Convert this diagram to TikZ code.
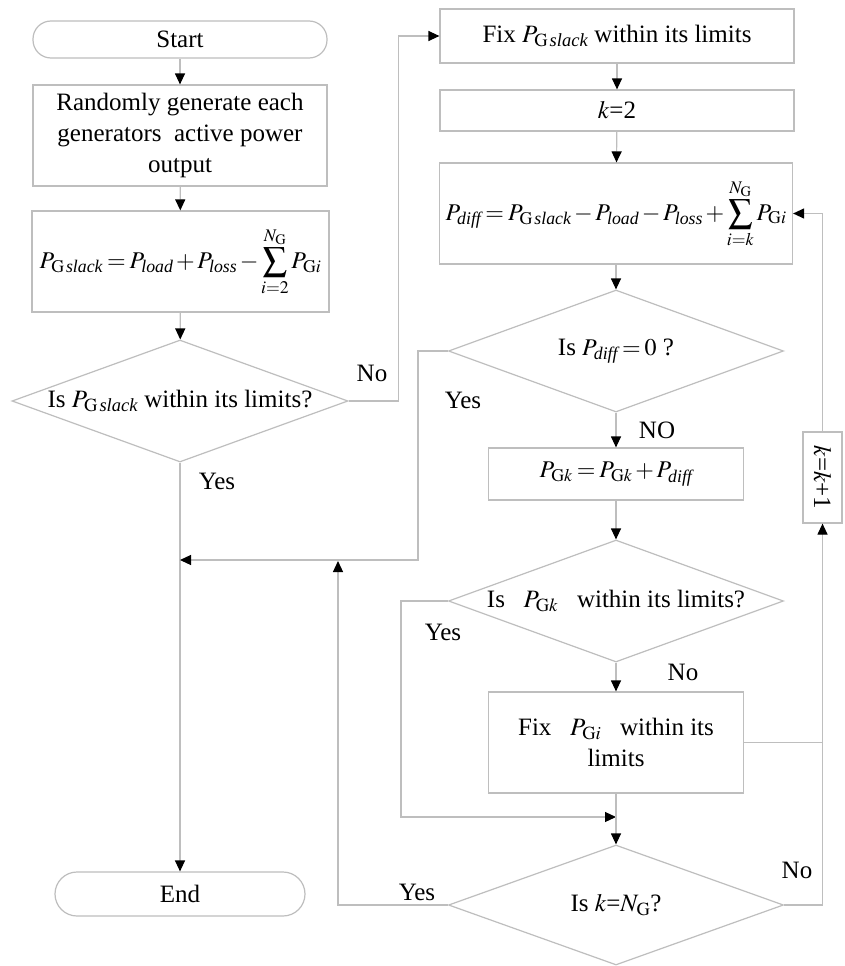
\documentclass[tikz,border=0pt]{standalone}
\usepackage{amsmath}
\usepackage{mathptmx}
\usepackage{fontspec}
\setmainfont{Liberation Serif}
\usepackage{tikz}
\usetikzlibrary{shapes.geometric,arrows.meta}
\definecolor{linegray}{RGB}{190,190,190}
\newcommand{\sub}[1]{\textit{#1}}
\newcommand{\tightmath}{\fontsize{24}{29}\selectfont\medmuskip=2mu\thickmuskip=3mu}
\tikzset{
  flowline/.style={draw=linegray,line width=1.2pt},
  flowarrow/.style={flowline,-{Triangle[length=11pt,width=10pt,color=black]}},
  termbox/.style={draw=linegray,line width=1.2pt,rounded corners=18pt,inner sep=0pt},
  procbox/.style={draw=linegray,line width=1.2pt,inner sep=0pt,align=center},
  decision/.style={draw=linegray,line width=1.2pt,diamond,inner sep=0pt},
  flowtext/.style={inner sep=0pt,align=center},
}

\begin{document}
\begin{tikzpicture}[x=1pt,y=-1pt,font=\fontsize{25}{31}\selectfont]
\useasboundingbox[fill=white] (0,0) rectangle (845,966);
% Drawing left column
% Line 1: start
\node[termbox,minimum width=294pt,minimum height=37pt] (start) at (180,39.5) {Start};
% Line 2: random generation
\node[procbox,minimum width=294pt,minimum height=101pt] (rand) at (180,135.5)
  {Randomly generate each\\generators\ \ active power\\output};
% Line 3: slack power
\node[procbox,minimum width=297pt,minimum height=101pt] (slack) at (180.5,261.5)
  {\tightmath$\displaystyle P_{\mathrm{G}\,\sub{slack}}=P_{\sub{load}}+P_{\sub{loss}}-\sum_{i=2}^{N_{\mathrm{G}}}P_{\mathrm{G}i}$};
% Line 4: first check
\node[decision,minimum width=336pt,minimum height=122pt] (dec1) at (180,401) {};
\node[flowtext] (dec1txt) at (dec1) {Is $P_{\mathrm{G}\,\sub{slack}}$ within its limits?};
% Line 5: end
\node[termbox,rounded corners=22pt,minimum width=250pt,minimum height=44pt] (end) at (180,894) {End};
% Done with left column; drawing right column
% Line 6: fix slack
\node[procbox,minimum width=354pt,minimum height=54pt] (fixslack) at (617,36)
  {Fix $P_{\mathrm{G}\,\sub{slack}}$ within its limits};
% Line 7: k=2
\node[procbox,minimum width=354pt,minimum height=41pt] (ktwo) at (617,110.5) {$k$=2};
% Line 8: power difference
\node[procbox,minimum width=353pt,minimum height=101pt] (diff) at (616,213.5)
  {\tightmath$\displaystyle P_{\sub{diff}}=P_{\mathrm{G}\,\sub{slack}}-P_{\sub{load}}-P_{\sub{loss}}+\sum_{i=k}^{N_{\mathrm{G}}}P_{\mathrm{G}i}$};
% Line 9: difference check
\node[decision,minimum width=335pt,minimum height=122pt] (dec2) at (616,351) {};
\node[flowtext] (dec2txt) at (dec2) {Is {\tightmath$P_{\sub{diff}}=0$}\ ?};
% Line 10: update P_Gk
\node[procbox,minimum width=255pt,minimum height=52pt] (gk) at (616,474)
  {\tightmath$P_{\mathrm{G}k}=P_{\mathrm{G}k}+P_{\sub{diff}}$};
% Line 11: P_Gk check
\node[decision,minimum width=335pt,minimum height=122pt] (dec3) at (616,601) {};
\node[flowtext] (dec3txt) at (dec3) {Is\ \ \ $P_{\mathrm{G}k}$\ \ \ within its limits?};
% Line 12: fix P_Gi
\node[procbox,minimum width=255pt,minimum height=101pt] (fixgi) at (616,742.5)
  {Fix\ \ \ $P_{\mathrm{G}i}$\ \ \ within its\\limits};
% Line 13: last generator check
\node[decision,minimum width=335pt,minimum height=120pt] (dec4) at (616,905) {};
\node[flowtext] (dec4txt) at (dec4) {Is $k$=$N_{\mathrm{G}}$?};
% Line 14: counter
\node[procbox,minimum width=39pt,minimum height=91pt] (kinc) at (822.5,477.5)
  {\rotatebox{-90}{$k$=$k$+1}};
% Done with boxes; drawing connectors
\coordinate (joinA) at (180,560);
\coordinate (joinB) at (338,561);
\coordinate (joinC) at (616,817);
\draw[flowarrow] (start) -- (rand);
\draw[flowarrow] (rand) -- (slack);
\draw[flowarrow] (slack) -- (dec1);
\draw[flowarrow] (dec1.east) -- ++(50,0) |- (fixslack.west);
\draw[flowarrow] (dec1.south) -- (end.north);
\draw[flowarrow] (fixslack) -- (ktwo);
\draw[flowarrow] (ktwo) -- (diff);
\draw[flowarrow] (diff) -- (dec2);
\draw[flowarrow] (dec2.west) -- ++(-30,0) |- (joinA);
\draw[flowarrow] (dec2.south) -- (gk.north);
\draw[flowarrow] (gk) -- (dec3);
\draw[flowarrow] (dec3.west) -- ++(-47,0) |- (joinC);
\draw[flowarrow] (dec3.south) -- (fixgi.north);
\draw[flowarrow] (fixgi.south) -- (dec4.north);
\draw[flowline] (fixgi.east) -- (fixgi.east -| kinc.south);
\draw[flowarrow] (dec4.east) -| (kinc.south);
\draw[flowarrow] (kinc.north) |- (diff.east);
\draw[flowarrow] (dec4.west) -| (joinB);
% Done with connectors; drawing branch labels
\node[flowtext] (noA) at (372,373) {No};
\node[flowtext] (yesA) at (217,481) {Yes};
\node[flowtext] (yesB) at (463,400) {Yes};
\node[flowtext] (noB) at (657,430) {NO};
\node[flowtext] (yesC) at (443,632) {Yes};
\node[flowtext] (noC) at (683,672) {No};
\node[flowtext] (yesD) at (417,892) {Yes};
\node[flowtext] (noD) at (797,870) {No};
% Done with labels
\end{tikzpicture}
\end{document}
